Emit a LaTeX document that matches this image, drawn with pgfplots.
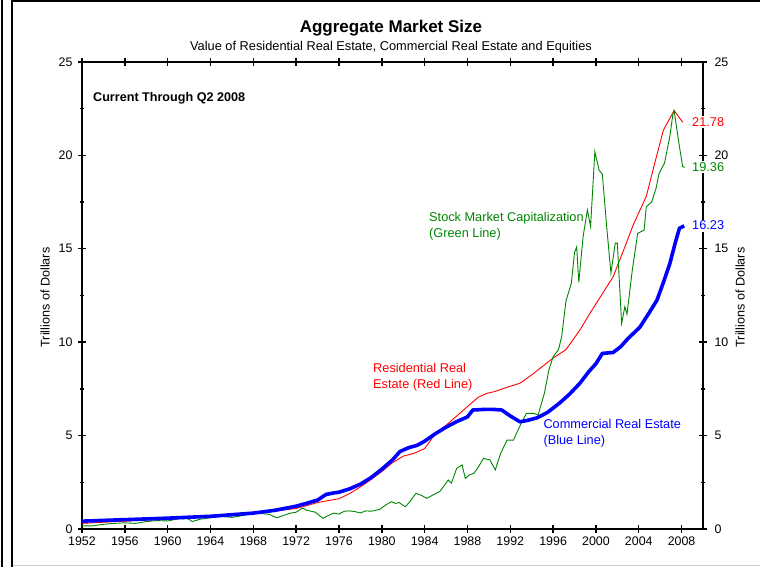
\documentclass[border=0pt]{standalone}
\usepackage{pgfplots}
\pgfplotsset{compat=1.18}
\usepackage{fontspec}
\setmainfont{Liberation Sans}
\definecolor{cgreen}{rgb}{0,0.52,0}
\definecolor{cred}{rgb}{1,0,0}
\definecolor{cblue}{rgb}{0,0,1}
\begin{document}
\begin{tikzpicture}
\useasboundingbox (0pt,0pt) rectangle (760pt,567pt);
% frame artefacts
\fill[black] (0.5pt,0pt) rectangle (3.3pt,567pt);
\fill[black] (11pt,0pt) rectangle (13.3pt,567pt);
\fill[black] (11pt,565.3pt) rectangle (760pt,567pt);
\fill[black!20] (13.3pt,0.6pt) rectangle (760pt,1.6pt);
\begin{axis}[
  at={(82pt,38pt)}, anchor=south west,
  width=621pt, height=467pt, scale only axis,
  xmin=1952, xmax=2010, ymin=0, ymax=25,
  xtick={1952,1956,...,2008}, minor x tick num=1,
  ytick={0,5,...,25}, minor y tick num=1,
  x tick label style={/pgf/number format/1000 sep={}},
  y tick label style={xshift=-2pt},
  /pgf/number format/assume math mode=true,
  ticklabel style={font=\fontsize{12.4}{14}\selectfont},
  axis line style={line width=1.6pt},
  every tick/.style={black, line width=1.4pt},
  tick align=center,
  major tick length=8pt, minor tick length=4pt,
  tick pos=both,
  yticklabel pos=left,
  xticklabel pos=lower,
  clip=false,
]
\addplot[cred, line width=0.9pt] coordinates {
(1952,0.30) (1956,0.42) (1960,0.53) (1964,0.66) (1968,0.84) (1970,0.95)
(1972,1.10) (1973,1.25) (1974,1.42) (1975,1.52) (1976,1.62) (1977,1.90)
(1978,2.25) (1979,2.65) (1980,3.07) (1981,3.55) (1982,3.90) (1983,4.05)
(1984,4.30) (1985,5.10) (1986,5.55) (1987,6.05) (1988,6.55) (1989,7.05)
(1989.8,7.26) (1990.5,7.35) (1991.5,7.55) (1992.9,7.80) (1994,8.25)
(1995,8.70) (1996,9.15) (1997.2,9.60) (1998.5,10.65) (1999.5,11.6)
(2000.5,12.5) (2001.6,13.5) (2002.5,14.8) (2003.5,16.3) (2004.7,17.8)
(2005.5,19.6) (2006.3,21.35) (2007.3,22.4) (2008.1,21.78)
};
\addplot[cgreen, line width=0.9pt] coordinates {
(1952,0.17) (1953,0.17) (1954,0.25) (1955,0.30) (1956,0.33) (1957,0.30)
(1958,0.40) (1959,0.45) (1960,0.43) (1961,0.55) (1961.9,0.55) (1962.3,0.40)
(1963,0.52) (1964,0.60) (1965,0.68) (1966,0.62) (1967,0.72) (1968,0.85)
(1968.9,0.82) (1969.5,0.78) (1970.2,0.60) (1970.8,0.72) (1971.5,0.85)
(1972,0.90) (1972.6,1.12) (1973,1.00) (1973.8,0.90) (1974.5,0.57)
(1975,0.72) (1975.5,0.85) (1976,0.80) (1976.5,0.95) (1977,0.97)
(1977.5,0.93) (1978,0.86) (1978.5,0.97) (1979,0.95) (1979.8,1.05)
(1980.4,1.30) (1980.9,1.46) (1981.3,1.37) (1981.6,1.42) (1982.2,1.19)
(1982.6,1.45) (1983.2,1.91) (1983.7,1.80) (1984.2,1.64) (1984.7,1.80)
(1985.4,2.00) (1985.8,2.30) (1986.2,2.62) (1986.5,2.45) (1987.0,3.25)
(1987.5,3.43) (1987.8,2.71) (1988.2,2.90) (1988.6,2.98) (1989.0,3.30)
(1989.5,3.78) (1990.1,3.70) (1990.6,3.16) (1991.1,4.05) (1991.7,4.76)
(1992.3,4.76) (1992.8,5.40) (1993.5,6.19) (1994.2,6.19) (1994.6,6.10)
(1995.2,7.30) (1995.6,8.50) (1996.0,9.22) (1996.5,9.60) (1996.8,10.3)
(1997.2,12.2) (1997.7,13.15) (1998.0,14.8) (1998.2,15.1) (1998.4,13.2)
(1998.8,15.65) (1999.2,17.08) (1999.5,16.2) (1999.9,20.2) (2000.3,19.2)
(2000.6,19.0) (2001.0,16.2) (2001.4,13.7) (2001.8,15.3) (2002.0,15.3)
(2002.4,11.0) (2002.7,11.9) (2002.9,11.5) (2003.4,13.87) (2003.9,15.83)
(2004.5,16.0) (2004.7,17.25) (2005.2,17.5) (2005.6,18.2) (2005.9,19.04)
(2006.4,19.58) (2006.9,21.0) (2007.2,22.25) (2007.3,22.4) (2007.8,20.47)
(2008.1,19.4) (2008.3,19.36)
};
\addplot[cblue, line width=3.6pt, line join=round] coordinates {
(1952,0.42) (1956,0.50) (1960,0.58) (1964,0.68) (1968,0.85) (1970,1.00)
(1972,1.22) (1973,1.38) (1974,1.55) (1974.8,1.85) (1975.5,1.93) (1976,1.97)
(1977,2.15) (1978,2.40) (1979,2.75) (1980,3.20) (1981,3.70) (1981.7,4.15)
(1982.5,4.35) (1983.3,4.48) (1984,4.70) (1985,5.10) (1986,5.45) (1987,5.75)
(1988,6.00) (1988.5,6.37) (1989.5,6.40) (1990.5,6.40) (1991.2,6.37)
(1992,6.05) (1992.9,5.74) (1993.5,5.80) (1994.5,5.95) (1995.5,6.25)
(1996.6,6.74) (1997.5,7.2) (1998.5,7.8) (1999.3,8.4) (2000.0,8.85)
(2000.6,9.4) (2001.6,9.45) (2002.3,9.75) (2003.0,10.2) (2004.1,10.8)
(2005.0,11.6) (2005.7,12.25) (2006.3,13.2) (2006.9,14.2) (2007.4,15.3)
(2007.8,16.1) (2008.25,16.23)
};
\end{axis}
\begin{axis}[
  at={(82pt,38pt)}, anchor=south west,
  width=621pt, height=467pt, scale only axis,
  xmin=1952, xmax=2010, ymin=0, ymax=25,
  hide x axis,
  axis y line*=right,
  ytick={0,5,...,25}, minor y tick num=1,
  y tick label style={xshift=4pt},
  /pgf/number format/assume math mode=true,
  ticklabel style={font=\fontsize{12.4}{14}\selectfont},
  axis line style={line width=1.6pt,-},
  every tick/.style={black, line width=1.4pt},
  tick align=center,
  major tick length=8pt, minor tick length=4pt,
]
\addplot[draw=none] coordinates {(1952,0)};
\end{axis}
% titles
\node[anchor=base, font=\fontsize{17}{19}\selectfont\bfseries] at (391pt,534pt) {Aggregate Market Size};
\node[anchor=base, font=\fontsize{12.8}{15}\selectfont] at (391pt,516.3pt) {Value of Residential Real Estate, Commercial Real Estate and Equities};
\node[rotate=90, font=\fontsize{12.6}{14}\selectfont] at (45pt,269.5pt) {Trillions of Dollars};
\node[rotate=90, font=\fontsize{12.6}{14}\selectfont] at (740pt,269.5pt) {Trillions of Dollars};
% annotations
\node[anchor=base west, inner sep=0pt, font=\fontsize{12.6}{14}\selectfont\bfseries] at (93pt,465.3pt) {Current Through Q2 2008};
\node[anchor=base west, inner sep=0pt, text=cgreen, font=\fontsize{12.75}{15}\selectfont] at (429pt,345.3pt) {Stock Market Capitalization};
\node[anchor=base west, inner sep=0pt, text=cgreen, font=\fontsize{12.75}{15}\selectfont] at (429pt,329.7pt) {(Green Line)};
\node[anchor=base west, inner sep=0pt, text=cred, font=\fontsize{12.75}{15}\selectfont] at (373pt,194.3pt) {Residential Real};
\node[anchor=base west, inner sep=0pt, text=cred, font=\fontsize{12.75}{15}\selectfont] at (373pt,178.7pt) {Estate (Red Line)};
\node[anchor=base west, inner sep=0pt, text=cblue, font=\fontsize{12.75}{15}\selectfont] at (543.3pt,138pt) {Commercial Real Estate};
\node[anchor=base west, inner sep=0pt, text=cblue, font=\fontsize{12.75}{15}\selectfont] at (543.3pt,122pt) {(Blue Line)};
% end values
\node[anchor=base west, fill=white, inner sep=1.5pt, text=cred, font=\fontsize{12.75}{15}\selectfont] at (690.5pt,440.3pt) {21.78};
\node[anchor=base west, fill=white, inner sep=1.5pt, text=cgreen, font=\fontsize{12.75}{15}\selectfont] at (690.5pt,395.3pt) {19.36};
\node[anchor=base west, fill=white, inner sep=1.5pt, text=cblue, font=\fontsize{12.75}{15}\selectfont] at (690.5pt,337pt) {16.23};
\end{tikzpicture}
\end{document}
